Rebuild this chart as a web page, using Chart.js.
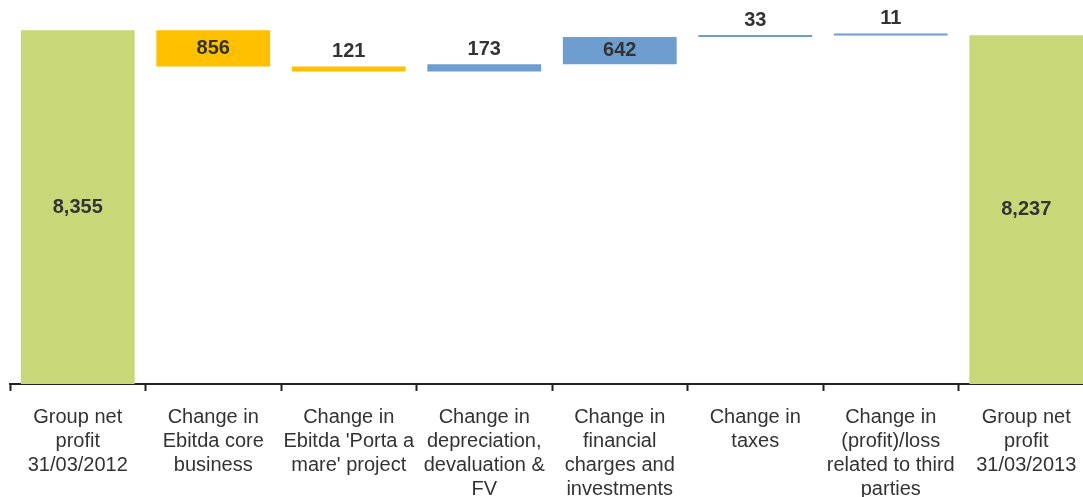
<!DOCTYPE html>
<html>
<head>
<meta charset="utf-8">
<title>Group net profit bridge</title>
<script src="https://cdn.jsdelivr.net/npm/chart.js@4/dist/chart.umd.min.js"></script>
<style>
    html, body {
        margin: 0;
        padding: 0;
        background: #ffffff;
        overflow: hidden;
    }

    /* taller than the window so the last label lines run off the bottom */
    #chart-container {
        position: relative;
        width: 1104px;
        height: 515px;
    }
</style>
</head>
<body>
<div id="chart-container">
    <canvas></canvas>
</div>
<script>
const categories = [
    ['Group net', 'profit', '31/03/2012'],
    ['Change in', 'Ebitda core', 'business'],
    ['Change in', "Ebitda 'Porta a", "mare' project"],
    ['Change in', 'depreciation,', 'devaluation &', 'FV'],
    ['Change in', 'financial', 'charges and', 'investments'],
    ['Change in', 'taxes'],
    ['Change in', '(profit)/loss', 'related to third', 'parties'],
    ['Group net', 'profit', '31/03/2013'],
];

const openingProfit = [8355];
const profitChanges = [-856, -121, 173, 642, 33, 11];
const closingProfit = [8237];

const totalColor = '#c8d778';
const decreaseColor = '#ffc000';
const increaseColor = '#6d9ecf';
const labelColor = '#333333';

window.onload = function() {
    createChart();
}

// floating [from, to] ranges for every bar of the bridge
function buildRanges() {
    const ranges = [[0, openingProfit[0]]];
    let running = openingProfit[0];

    profitChanges.forEach(change => {
        ranges.push([running, running + change]);
        running += change;
    });

    ranges.push([0, closingProfit[0]]);
    return ranges;
}

function buildColors() {
    const changeColors = profitChanges.map(change => {
        return change < 0 ? decreaseColor : increaseColor;
    });

    return [totalColor, ...changeColors, totalColor];
}

function buildLabels() {
    const values = [openingProfit[0], ...profitChanges, closingProfit[0]];
    return values.map(value => Math.abs(value).toLocaleString('en-US'));
}

// writes the value inside tall bars, above the flat ones
const valueLabels = {
    id: 'valueLabels',
    afterDatasetsDraw(chart) {
        const ctx = chart.ctx;
        const labels = buildLabels();
        const meta = chart.getDatasetMeta(0);

        ctx.save();
        ctx.font = 'bold 20px "Liberation Sans", Arial, sans-serif';
        ctx.fillStyle = labelColor;
        ctx.textAlign = 'center';
        ctx.textBaseline = 'middle';

        meta.data.forEach((bar, index) => {
            const top = Math.min(bar.y, bar.base);
            const height = Math.abs(bar.base - bar.y);
            let y = top - 15;

            if (height > 22) {
                y = top + height / 2;
            }

            ctx.fillText(labels[index], bar.x, y);
        });

        ctx.restore();
    },
};

function createChart() {
    const chartCanvas = document.querySelector('#chart-container > canvas');

    new Chart(chartCanvas, {
        type: 'bar',
        data: {
            labels: categories,
            datasets: [
                {
                    data: buildRanges(),
                    backgroundColor: buildColors(),
                    borderWidth: 0,
                    barPercentage: 0.84,
                    categoryPercentage: 1,
                    minBarLength: 2,
                },
            ],
        },
        options: {
            responsive: true,
            maintainAspectRatio: false,
            animation: false,
            layout: {
                padding: {
                    top: 24,
                    left: 10,
                    right: 10,
                    bottom: 0,
                },
            },
            plugins: {
                legend: {
                    display: false,
                },
                tooltip: {
                    enabled: false,
                },
            },
            scales: {
                x: {
                    border: {
                        display: true,
                        color: '#222222',
                        width: 2,
                    },
                    grid: {
                        display: true,
                        drawOnChartArea: false,
                        drawTicks: true,
                        tickLength: 7,
                        tickColor: '#222222',
                        tickWidth: 2,
                    },
                    ticks: {
                        autoSkip: false,
                        maxRotation: 0,
                        minRotation: 0,
                        padding: 14,
                        color: '#333333',
                        font: {
                            family: '"Liberation Sans", Arial, sans-serif',
                            size: 20,
                            lineHeight: 1.2,
                        },
                    },
                },
                y: {
                    display: false,
                    min: 0,
                    max: 8500,
                },
            },
        },
        plugins: [valueLabels],
    });
}
</script>
</body>
</html>
